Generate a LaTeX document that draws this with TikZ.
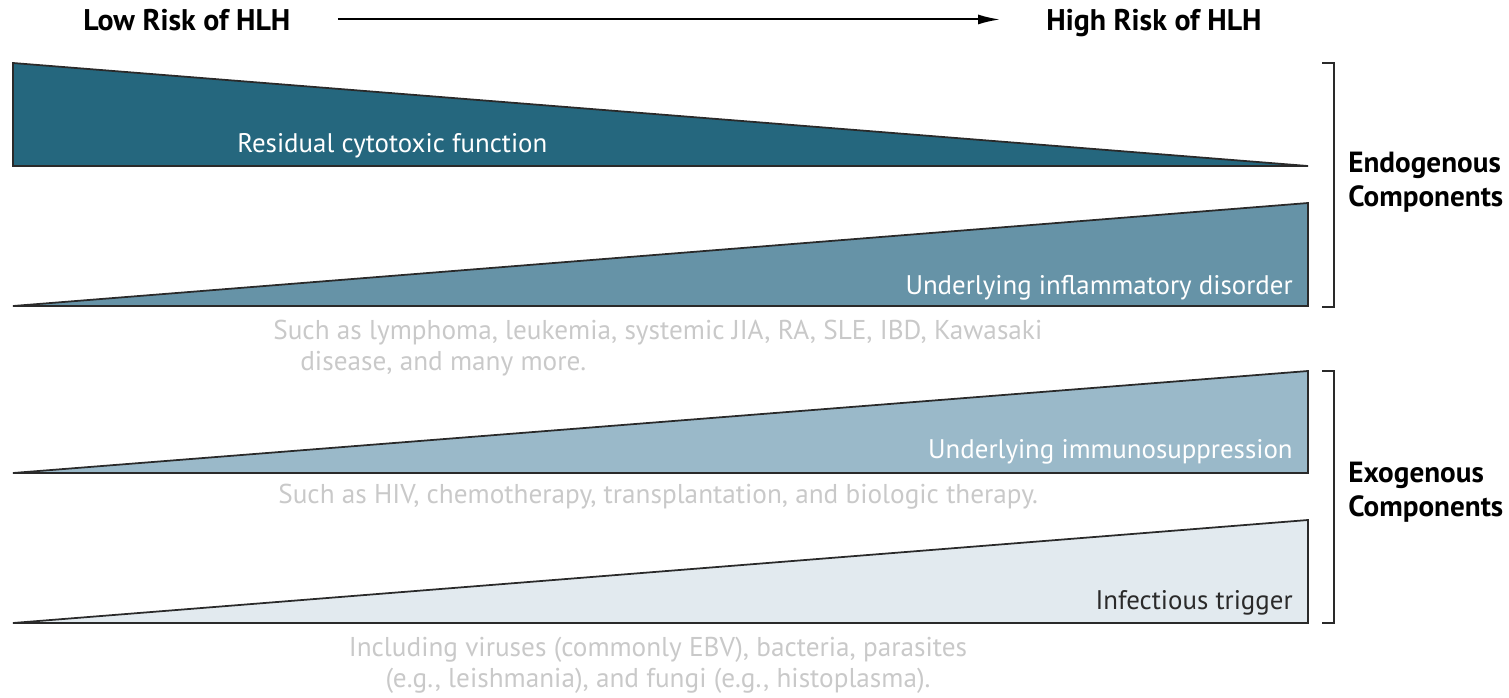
\documentclass[tikz,border=0pt]{standalone}
\usepackage{fontspec}
\setmainfont{PT Sans}
\usetikzlibrary{arrows.meta}
\definecolor{tealA}{HTML}{25677E}
\definecolor{tealB}{HTML}{6693A7}
\definecolor{tealC}{HTML}{9AB9C9}
\definecolor{tealD}{HTML}{E2EAEF}
\definecolor{edge}{HTML}{2A2A2A}
\definecolor{notegray}{HTML}{C9C9C9}
\begin{document}
\begin{tikzpicture}[x=0.02cm,y=-0.02cm,
    wedge/.style={draw=edge, line width=1pt},
    inlabel/.style={font=\fontsize{15.3}{18}\selectfont, inner sep=0pt},
    note/.style={font=\fontsize{15.5}{17.5}\selectfont, text=notegray, inner sep=0pt},
    head/.style={font=\bfseries\fontsize{17}{20}\selectfont, inner sep=0pt, text height=12pt, text depth=0pt},
    side/.style={font=\bfseries\fontsize{16.6}{19.5}\selectfont, align=left, anchor=west, inner sep=0pt}]
\useasboundingbox (0,0) rectangle (1509,697);
% risk scale
\node[head, anchor=base west] (low) at (83,30) {Low Risk of HLH};
\node[head, anchor=base west] (high) at (1046,30) {High Risk of HLH};
\draw[-{Latex[length=0.44cm,width=0.2cm]}, line width=1.1pt, shorten <=0.94cm, shorten >=0.92cm] (low.east) -- (high.west);
% wedges
\draw[wedge, fill=tealA] (13,63) -- (1308,166) -- (13,166) -- cycle;
\draw[wedge, fill=tealB] (13,306) -- (1308,203) -- (1308,306) -- cycle;
\draw[wedge, fill=tealC] (13,473) -- (1308,371) -- (1308,473) -- cycle;
\draw[wedge, fill=tealD] (13,623) -- (1308,520) -- (1308,623) -- cycle;
\node[inlabel, text=white, anchor=base west] (cyto) at (237,152) {Residual cytotoxic function};
\node[inlabel, text=white, anchor=base east] (inflam) at (1293,294) {Underlying inflammatory disorder};
\node[inlabel, text=white, anchor=base east] (immuno) at (1293,458) {Underlying immunosuppression};
\node[inlabel, text=edge, anchor=base east] (infect) at (1293,609) {Infectious trigger};
% examples
\node[note, anchor=base west, align=left] (inflamnote) at (273,370) {Such as lymphoma, leukemia, systemic JIA, RA, SLE, IBD, Kawasaki\\\hspace*{0.54cm}disease, and many more.};
\node[note, anchor=base west] (immunonote) at (278,503) {Such as HIV, chemotherapy, transplantation, and biologic therapy.};
\node[note, anchor=base, align=center] (infectnote) at (658,687) {Including viruses (commonly EBV), bacteria, parasites\\(e.g., leishmania), and fungi (e.g., histoplasma).};
% brackets
\draw[line width=1.5pt, edge] (1322,63) -| (1334,307) -- (1322,307);
\draw[line width=1.5pt, edge] (1322,371) -| (1334,623) -- (1322,623);
\node[side] (endo) at (1348,182) {Endogenous\\Components};
\node[side] (exo) at (1348,492) {Exogenous\\Components};
\end{tikzpicture}
\end{document}
